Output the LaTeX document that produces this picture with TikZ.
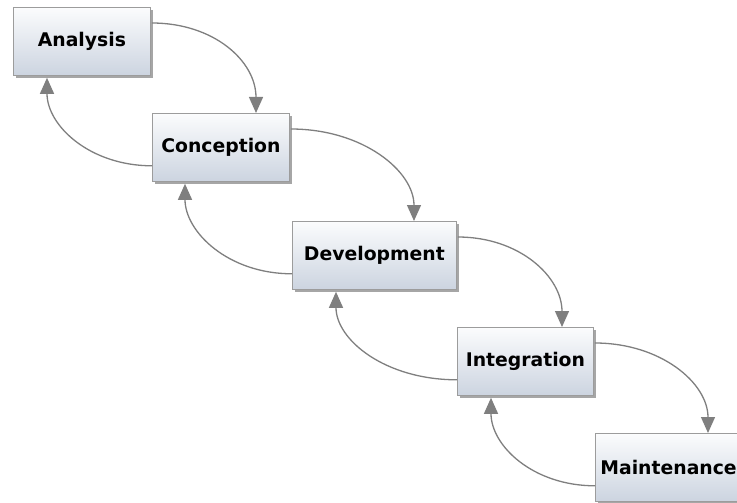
\documentclass[tikz,border=0pt]{standalone}
\usepackage{fontspec}
\setmainfont{DejaVu Sans}
\usetikzlibrary{shadows,arrows.meta,calc}
\definecolor{boxtop}{HTML}{FBFCFD}
\definecolor{boxbot}{HTML}{CCD4E0}
\definecolor{boxline}{HTML}{9C9C9C}
\definecolor{arrowgray}{HTML}{7F7F7F}
\tikzset{
  phase/.style={draw=boxline, line width=0.8pt, top color=boxtop, bottom color=boxbot,
    minimum height=68pt, inner sep=0pt, anchor=north west,
    font=\fontsize{18.8}{22}\selectfont\bfseries,
    drop shadow={shadow xshift=2.5pt, shadow yshift=-2.5pt, opacity=0.35, fill=black}},
  flow/.style={draw=arrowgray, line width=1.3pt, -{Triangle[length=16pt,width=14pt]}}
}
\begin{document}
\begin{tikzpicture}[x=1pt,y=-1pt]
\useasboundingbox (0,0) rectangle (737,503);
\clip (0,0) rectangle (737,503);

% phases of the waterfall
\node[phase, minimum width=137pt] (ana) at (13,7)   {Analysis};
\node[phase, minimum width=137pt] (con) at (152,113) {Conception};
\node[phase, minimum width=164pt] (dev) at (292,221) {Development};
\node[phase, minimum width=136pt] (int) at (457,327) {Integration};
\node[phase, minimum width=152pt, align=left, text width=144pt, inner xsep=5pt] (mai) at (595,433) {Maintenance};

% forward steps: right side of one phase down onto the next
\draw[flow] ($(ana.north east)+(1,16)$) .. controls +(62,0) and +(0,-52) .. ($(con.north west)+(104,0)$);
\draw[flow] ($(con.north east)+(1,16)$) .. controls +(72,0) and +(0,-50) .. ($(dev.north west)+(122,0)$);
\draw[flow] ($(dev.north east)+(1,16)$) .. controls +(62,0) and +(0,-50) .. ($(int.north west)+(105,0)$);
\draw[flow] ($(int.north east)+(1,16)$) .. controls +(66,0) and +(0,-50) .. ($(mai.north west)+(113,0)$);

% feedback steps: left side of a phase back up to the previous one
\draw[flow] ($(con.south west)+(0,-16)$) .. controls +(-62,0) and +(0,48) .. ($(ana.south west)+(34,2)$);
\draw[flow] ($(dev.south west)+(0,-16)$) .. controls +(-64,0) and +(0,48) .. ($(con.south west)+(33,2)$);
\draw[flow] ($(int.south west)+(0,-16)$) .. controls +(-72,0) and +(0,48) .. ($(dev.south west)+(44,2)$);
\draw[flow] ($(mai.south west)+(0,-16)$) .. controls +(-62,0) and +(0,48) .. ($(int.south west)+(34,2)$);
\end{tikzpicture}
\end{document}
